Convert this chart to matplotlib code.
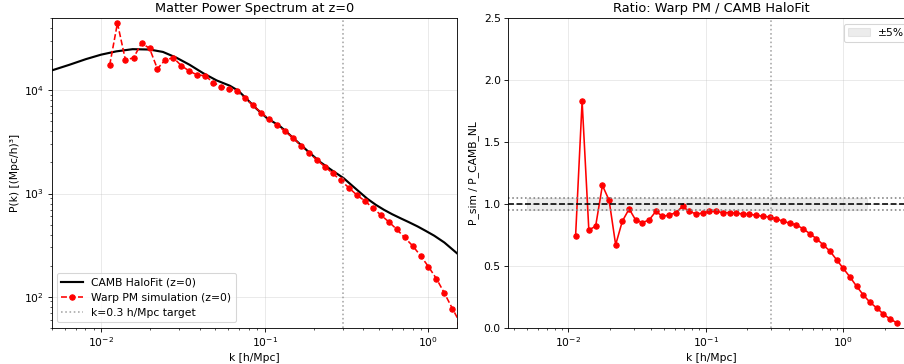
import numpy as np
import matplotlib
matplotlib.use("Agg")
import matplotlib.pyplot as plt

# CAMB HaloFit curve
k_camb = [0.00493, 0.0064, 0.00809, 0.0100, 0.0124, 0.0156, 0.0198, 0.0239, 0.0288,
          0.0348, 0.0420, 0.0508, 0.0612, 0.0689, 0.0776, 0.0893, 0.1028, 0.124,
          0.136, 0.157, 0.185, 0.218, 0.257, 0.303, 0.360, 0.423, 0.478, 0.535,
          0.600, 0.676, 0.760, 0.857, 0.960, 1.084, 1.25, 1.52]
p_camb = [15500, 17700, 20100, 22200, 23900, 25100, 24900, 23600, 20800,
          17700, 14700, 12500, 11100, 9930, 8260, 6610, 5410, 4490,
          3950, 3210, 2540, 2020, 1680, 1410, 1110, 890, 775, 695,
          630, 575, 527, 480, 435, 390, 335, 257]

# simulation bins
k_sim = [0.0113, 0.0126, 0.0141, 0.0158, 0.0177, 0.0198, 0.0221, 0.0247, 0.0277,
         0.0309, 0.0346, 0.0387, 0.0433, 0.0484, 0.0542, 0.0606, 0.0678, 0.0758,
         0.0848, 0.0949, 0.106, 0.119, 0.133, 0.149, 0.166, 0.186, 0.208, 0.233,
         0.260, 0.291, 0.326, 0.364, 0.408, 0.456, 0.510, 0.571, 0.638, 0.714,
         0.799, 0.894, 1.0, 1.119, 1.251, 1.400, 1.566, 1.752, 1.960, 2.193, 2.453]
p_sim = [17600, 44900, 19700, 20700, 28800, 25500, 16200, 19800, 20700,
         17400, 15400, 14100, 13900, 11900, 10900, 10400, 9780, 8440,
         7160, 6090, 5280, 4620, 4010, 3480, 2920, 2480, 2120, 1820,
         1570, 1340, 1140, 971, 849, 727, 622, 533, 452, 375,
         312, 250, 195, 149, 108, 76.5, 55, 38, 26, 17, 11]
ratio = [0.745, 1.83, 0.79, 0.82, 1.15, 1.03, 0.67, 0.86, 0.96,
         0.87, 0.85, 0.87, 0.94, 0.90, 0.91, 0.93, 0.98, 0.94,
         0.92, 0.925, 0.94, 0.94, 0.93, 0.93, 0.925, 0.92, 0.915, 0.91,
         0.90, 0.895, 0.88, 0.86, 0.845, 0.83, 0.80, 0.76, 0.72, 0.67,
         0.62, 0.55, 0.48, 0.41, 0.335, 0.265, 0.205, 0.16, 0.11, 0.07, 0.04]

k_target = 0.3
band_k = [0.005, 1.5]

dpi = 77
fig = plt.figure(figsize=(904 / dpi, 364 / dpi), dpi=dpi)
ax1 = fig.add_axes([0.0572, 0.0997, 0.4487, 0.850])
ax2 = fig.add_axes([0.5623, 0.0997, 0.4487, 0.850])

# left: power spectrum
ax1.loglog(k_camb, p_camb, 'k-', lw=2, label='CAMB HaloFit (z=0)')
ax1.loglog(k_sim, p_sim, 'r--o', lw=1.5, markersize=5, label='Warp PM simulation (z=0)')
ax1.axvline(k_target, color='gray', ls=':', alpha=0.7, label='k=0.3 h/Mpc target')
ax1.set_xlim(0.005, 1.5)
ax1.set_ylim(50, 5e4)
ax1.set_xlabel('k [h/Mpc]')
ax1.set_ylabel('P(k) [(Mpc/h)³]')
ax1.set_title('Matter Power Spectrum at z=0')
ax1.legend(loc='lower left')
ax1.grid(True, alpha=0.3)

# right: ratio
ax2.semilogx(k_sim, ratio, 'r-o', lw=1.5, markersize=5)
ax2.axhline(1.0, color='k', ls='--', lw=1.5)
ax2.axhline(0.95, color='gray', ls=':')
ax2.axhline(1.05, color='gray', ls=':')
ax2.fill_between(band_k, 0.95, 1.05, color='gray', alpha=0.15, label='±5%')
ax2.axvline(k_target, color='gray', ls=':', alpha=0.7)
ax2.set_xlim(0.00366, 3.27)
ax2.set_ylim(0, 2.5)
ax2.set_xlabel('k [h/Mpc]')
ax2.set_ylabel('P_sim / P_CAMB_NL')
ax2.set_title('Ratio: Warp PM / CAMB HaloFit')
ax2.legend(loc='upper right')
ax2.grid(True, alpha=0.3)

fig.savefig('out.png', dpi=dpi)
